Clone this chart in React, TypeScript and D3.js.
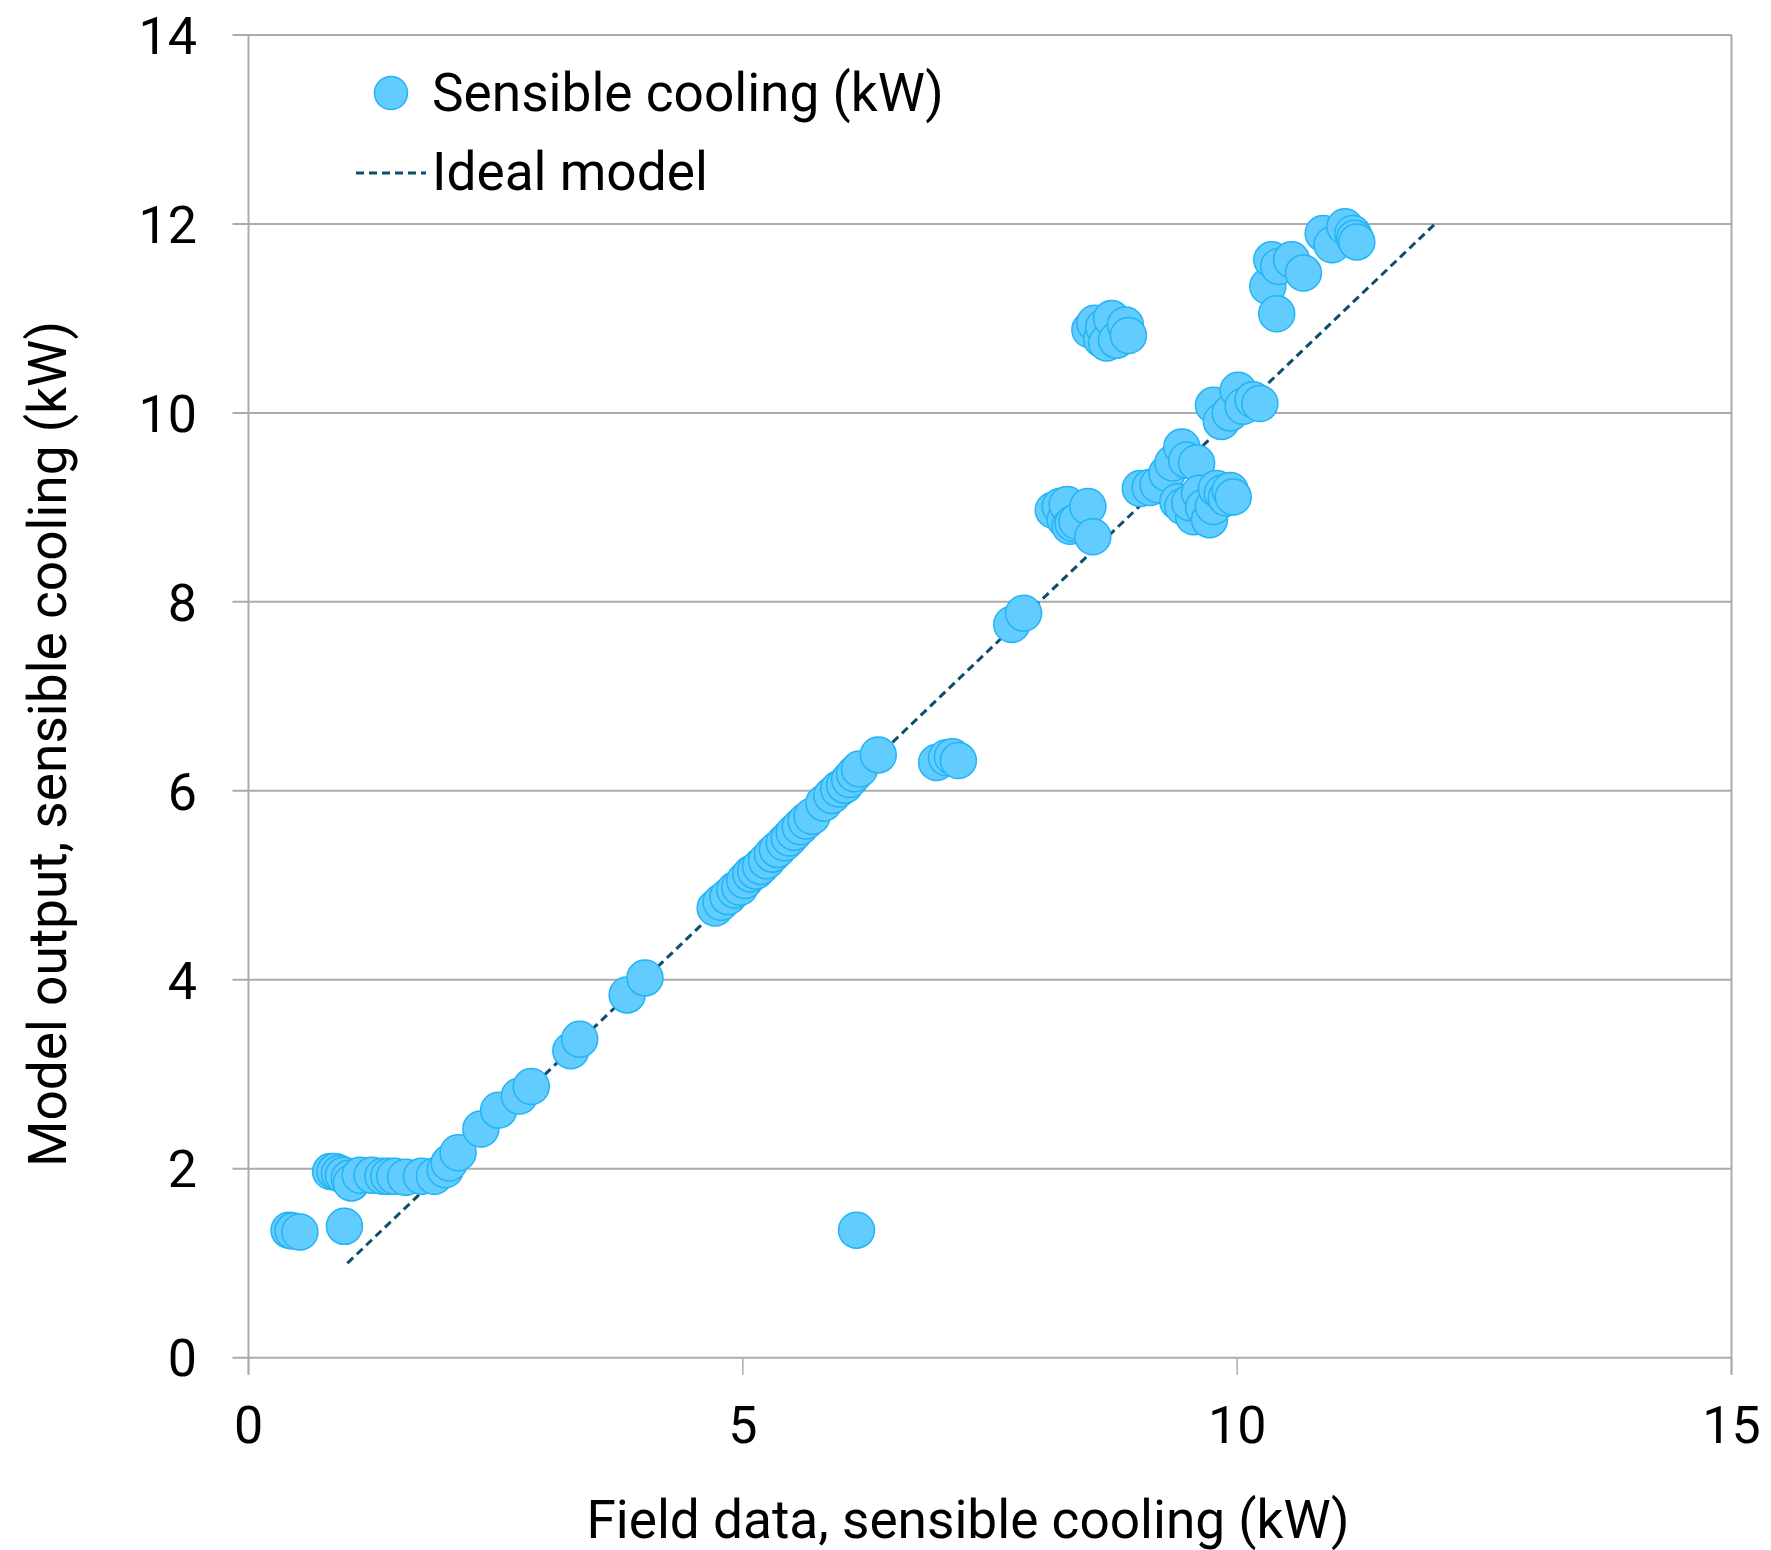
import React from "react";
import * as d3 from "d3";

const fieldData: number[] = [
  0.41, 0.45, 0.52, 0.97, 6.15,
  0.83, 0.875, 0.92, 0.96, 1.02, 1.04, 1.13, 1.25, 1.36, 1.42, 1.48, 1.59, 1.75, 1.88, 1.99, 2.03, 2.12, 2.35, 2.53, 2.74, 2.86,
  3.26, 3.35, 3.83, 4.01,
  4.72, 4.78, 4.85, 4.92, 4.97, 5.02, 5.08, 5.13, 5.18, 5.24, 5.3, 5.35, 5.42, 5.47, 5.52, 5.58, 5.64, 5.7, 5.82, 5.9, 5.97, 6.03, 6.08, 6.13, 6.18, 6.37,
  6.96, 7.06, 7.12, 7.18, 7.72, 7.84,
  8.14, 8.21, 8.26, 8.28, 8.31, 8.34, 8.38, 8.49, 8.54,
  8.51, 8.56, 8.63, 8.65, 8.68, 8.73, 8.78, 8.87, 8.9,
  9.02, 9.12, 9.2, 9.29, 9.35, 9.44, 9.49, 9.59, 9.4, 9.45, 9.56, 9.52, 9.62, 9.66, 9.72, 9.76, 9.79, 9.85, 9.89, 9.93, 9.96,
  9.76, 9.84, 9.93, 10.01, 10.06, 10.16, 10.23,
  10.31, 10.35, 10.4, 10.42, 10.55, 10.67, 10.87, 10.96, 11.09, 11.17, 11.19, 11.21,
];

const modelOutput: number[] = [
  1.35, 1.34, 1.33, 1.39, 1.35,
  1.97, 1.97, 1.95, 1.93, 1.9, 1.85, 1.93, 1.93, 1.92, 1.92, 1.92, 1.91, 1.92, 1.92, 1.99, 2.06, 2.17, 2.42, 2.62, 2.77, 2.87,
  3.25, 3.37, 3.84, 4.02,
  4.76, 4.82, 4.88, 4.95, 4.98, 5.05, 5.12, 5.15, 5.2, 5.26, 5.33, 5.38, 5.45, 5.5, 5.56, 5.62, 5.68, 5.73, 5.87, 5.95, 6.02, 6.06, 6.12, 6.18, 6.23, 6.38,
  6.3, 6.35, 6.36, 6.32, 7.76, 7.88,
  8.97, 9.01, 8.87, 9.03, 8.8, 8.83, 8.85, 9.01, 8.69,
  10.88, 10.95, 10.78, 10.91, 10.74, 11.0, 10.77, 10.93, 10.82,
  9.2, 9.21, 9.24, 9.36, 9.47, 9.64, 9.5, 9.47, 9.06, 9.01, 8.9, 9.05, 9.15, 9.0, 8.87, 9.01, 9.2, 9.15, 9.1, 9.18, 9.11,
  10.08, 9.91, 10.0, 10.24, 10.07, 10.14, 10.1,
  11.34, 11.62, 11.05, 11.55, 11.62, 11.48, 11.9, 11.78, 11.97, 11.9, 11.85, 11.81,
];

const idealLine: [number, number][] = [[1, 1], [12, 12]];
const xTicks: number[] = [0, 5, 10, 15];
const yTicks: number[] = [0, 2, 4, 6, 8, 10, 12, 14];

const xTitle = "Field data, sensible cooling (kW)";
const yTitle = "Model output, sensible cooling (kW)";
const seriesName = "Sensible cooling (kW)";
const lineName = "Ideal model";

const W = 1771;
const H = 1550;
const L = 248.5, R = 1731.5, T = 35, B = 1357.7;

const FONT = "Roboto, 'Noto Sans', sans-serif";
const FILL = "#62CCFE";
const STROKE = "#22B4F4";
const GRID = "#ABABAB";
const LINE = "#0B4F6C";
const TFS = 53.2;

export default function App() {
  const x = d3.scaleLinear().domain([0, 15]).range([L, R]);
  const y = d3.scaleLinear().domain([0, 14]).range([B, T]);
  const line = d3.line<[number, number]>().x((d) => x(d[0])).y((d) => y(d[1]));
  const pts = fieldData.map((f, i) => [f, modelOutput[i]] as [number, number]);

  return (
    <svg
      width={W}
      height={H}
      style={{ position: "absolute", left: 0, top: 0, background: "#fff" }}
      fontFamily={FONT}
    >
      <rect x={0} y={0} width={W} height={H} fill="#fff" />
      {yTicks.map((t) => (
        <line key={"g" + t} x1={L - 16} x2={R} y1={y(t)} y2={y(t)} stroke={GRID} strokeWidth={2} />
      ))}
      <line x1={L} x2={L} y1={T} y2={B + 17} stroke={GRID} strokeWidth={2} />
      <line x1={R} x2={R} y1={T} y2={B + 17} stroke={GRID} strokeWidth={2} />
      {xTicks.map((t) => (
        <line key={"xt" + t} x1={x(t)} x2={x(t)} y1={B} y2={B + 17} stroke={GRID} strokeWidth={1.5} />
      ))}
      {yTicks.map((t) => (
        <text key={"yl" + t} x={197} y={y(t)} dy="0.36em" textAnchor="end" fontSize={52} fill="#000">
          {t}
        </text>
      ))}
      {xTicks.map((t) => (
        <text key={"xl" + t} x={x(t)} y={1443} textAnchor="middle" fontSize={52} fill="#000">
          {t}
        </text>
      ))}
      <text x={968} y={1538} textAnchor="middle" fontSize={TFS} fill="#000">
        {xTitle}
      </text>
      <text
        transform={`translate(66,744) rotate(-90)`}
        textAnchor="middle"
        fontSize={TFS}
        fill="#000"
      >
        {yTitle}
      </text>
      <path d={line(idealLine) || ""} fill="none" stroke={LINE} strokeWidth={3} strokeDasharray="8,5" />
      {pts.map((p, i) => (
        <circle key={"p" + i} cx={x(p[0])} cy={y(p[1])} r={18} fill={FILL} stroke={STROKE} strokeWidth={1.5} />
      ))}
      <circle cx={391} cy={93} r={16.5} fill={FILL} stroke={STROKE} strokeWidth={1.5} />
      <text x={432} y={110.5} fontSize={TFS} fill="#000">
        {seriesName}
      </text>
      <line x1={356} x2={426} y1={173} y2={173} stroke={LINE} strokeWidth={3} strokeDasharray="8,5" />
      <text x={432} y={190} fontSize={TFS} fill="#000">
        {lineName}
      </text>
    </svg>
  );
}
